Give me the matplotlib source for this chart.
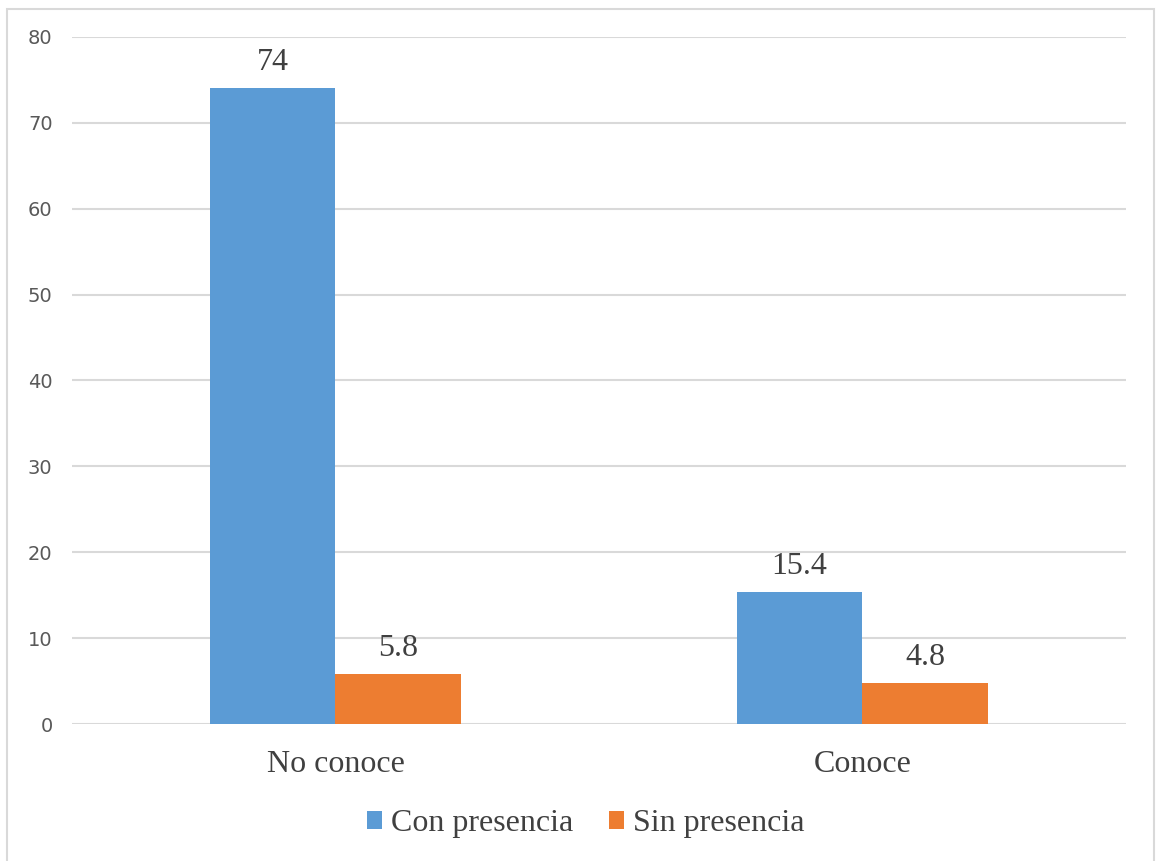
import matplotlib.pyplot as plt
from matplotlib.patches import Rectangle

categorias = ["No conoce", "Conoce"]
con_presencia = [74, 15.4]
sin_presencia = [5.8, 4.8]
etiquetas_y = [0, 10, 20, 30, 40, 50, 60, 70, 80]

azul = "#5b9bd5"
naranja = "#ed7d31"
serif = ["Liberation Serif", "DejaVu Serif"]

fig = plt.figure(figsize=(11.57, 8.61), dpi=100)
ax = fig.add_axes([0.0622, 0.1591, 0.911, 0.798])

x = range(len(categorias))
ancho = 0.239
b1 = ax.bar([i - ancho / 2 for i in x], con_presencia, ancho, color=azul,
            label="Con presencia", zorder=3)
b2 = ax.bar([i + ancho / 2 for i in x], sin_presencia, ancho, color=naranja,
            label="Sin presencia", zorder=3)

for barras in (b1, b2):
    for b in barras:
        h = b.get_height()
        ax.annotate(f"{h:g}", (b.get_x() + b.get_width() / 2, h),
                    xytext=(0, 8), textcoords="offset points",
                    ha="center", va="bottom", fontsize=23,
                    family=serif, color="#404040")

ax.set_xlim(-0.5, 1.5)
ax.set_ylim(0, 80)
ax.set_yticks(etiquetas_y)
ax.set_xticks(list(x))
ax.set_xticklabels(categorias, family=serif, fontsize=23, color="#404040")
ax.tick_params(axis="y", labelsize=14, labelcolor="#595959", length=0, pad=14)
ax.tick_params(axis="x", length=0, pad=19)
ax.grid(axis="y", color="#d9d9d9", linewidth=1.5, zorder=0)
for s in ax.spines.values():
    s.set_visible(False)

ax.legend(loc="center", bbox_to_anchor=(0.4875, -0.145), ncol=2, frameon=False,
          prop={"family": serif, "size": 23}, labelcolor="#404040",
          handlelength=0.47, handleheight=0.47, handletextpad=0.28,
          columnspacing=1.1)

# borde del gráfico
fig.patches.append(Rectangle((0.006, -0.01), 0.991, 1.0, transform=fig.transFigure,
                             fill=False, edgecolor="#d9d9d9", linewidth=1.5))

fig.savefig("out.png", dpi=100)
